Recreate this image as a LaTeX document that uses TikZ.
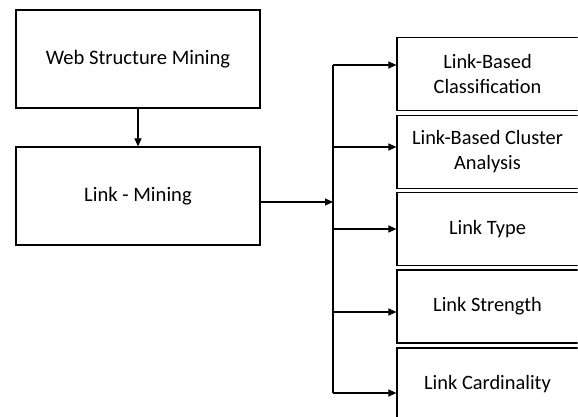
\documentclass[tikz,border=0pt]{standalone}
\usepackage{fontspec}
\setmainfont{Carlito}
\usetikzlibrary{arrows.meta}
\begin{document}
\begin{tikzpicture}[x=1pt,y=-1pt,
  box/.style={draw=black,line width=1.2pt,minimum width=244pt,minimum height=98pt,inner sep=0pt,font=\fontsize{20.6}{25}\selectfont},
  rbox/.style={draw=black,line width=1.2pt,minimum width=196pt,minimum height=73pt,inner sep=0pt},
  rtext/.style={inner sep=0pt,align=center,font=\fontsize{20.4}{25}\selectfont},
  conn/.style={line width=1.2pt},
  arr/.style={conn,-{Triangle[length=8pt,width=7pt]}}]
\useasboundingbox (0,0) rectangle (578,417);
\clip (0,0) rectangle (577.5,417);
\fill[white] (0,0) rectangle (578,417);
\node[box] (wsm) at (138,59) {Web Structure Mining};
\node[box] (lm) at (138,196) {Link - Mining};
\node[rbox] (r1) at (495,74) {};
\node[rbox] (r2) at (495,152) {};
\node[rbox] (r3) at (495,229) {};
\node[rbox] (r4) at (495,306.5) {};
\node[rbox] (r5) at (495,384.5) {};
\node[rtext] (r1t) at ([xshift=-7.5pt]r1.center) {Link-Based\\Classification};
\node[rtext] (r2t) at ([xshift=-7.5pt]r2.center) {Link-Based Cluster\\Analysis};
\node[rtext] (r3t) at ([xshift=-7.5pt]r3.center) {Link Type};
\node[rtext] (r4t) at ([xshift=-7.5pt]r4.center) {Link Strength};
\node[rtext] (r5t) at ([xshift=-7.5pt]r5.center) {Link Cardinality};
\coordinate (j) at (333,202);
\coordinate (t1) at (333,65);
\coordinate (t2) at (333,147);
\coordinate (t3) at (333,229);
\coordinate (t4) at (333,312);
\coordinate (t5) at (333,393);
\draw[arr] (wsm.south) -- (lm.north);
\draw[arr] (j -| lm.east) -- (j);
\draw[conn] (t1) -- (t5);
\draw[arr] (t1) -- (t1 -| r1.west);
\draw[arr] (t2) -- (t2 -| r2.west);
\draw[arr] (t3) -- (t3 -| r3.west);
\draw[arr] (t4) -- (t4 -| r4.west);
\draw[arr] (t5) -- (t5 -| r5.west);
\end{tikzpicture}
\end{document}
